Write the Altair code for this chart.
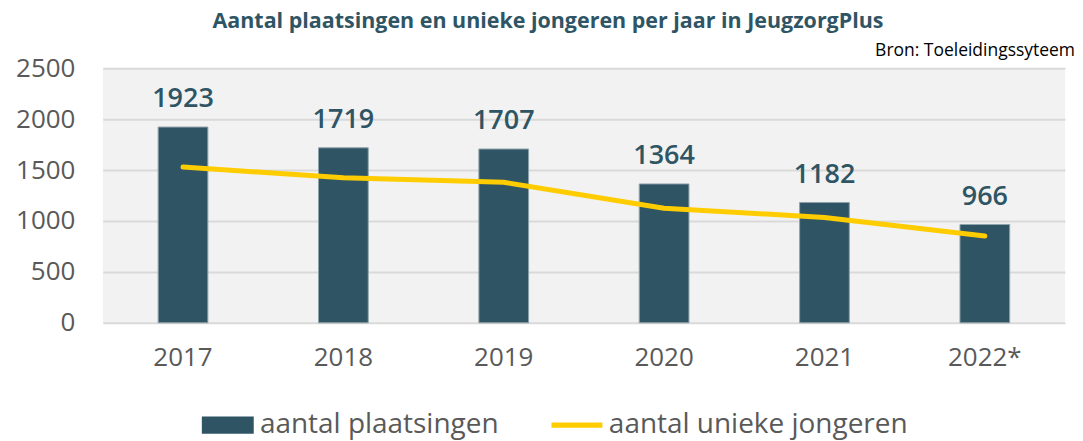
import altair as alt
import pandas as pd

years = ["2017", "2018", "2019", "2020", "2021", "2022*"]
plaatsingen = [1923, 1719, 1707, 1364, 1182, 966]
jongeren = [1530, 1425, 1380, 1125, 1035, 853]
y_ticks = [0, 500, 1000, 1500, 2000, 2500]
bar_label = "aantal plaatsingen"
line_label = "aantal unieke jongeren"
title_text = "Aantal plaatsingen en unieke jongeren per jaar in JeugzorgPlus"
source_text = "Bron: Toeleidingssyteem"

TEAL = "#2F5564"
YELLOW = "#FFCC00"
GREY = "#595959"
FONT = "Open Sans"

df = pd.DataFrame({
    "jaar": years,
    "plaatsingen": plaatsingen,
    "jongeren": jongeren,
    "s_bar": bar_label,
    "s_line": line_label,
})

x = alt.X(
    "jaar:N", sort=years,
    scale=alt.Scale(paddingInner=0.69, paddingOuter=0.345),
    axis=alt.Axis(title=None, labelAngle=0, labelFontSize=26, labelColor=GREY,
                  labelFont=FONT, labelPadding=22, domain=False, ticks=False, grid=False),
)
yscale = alt.Scale(domain=[0, 2500], nice=False)
yaxis = alt.Axis(title=None, values=y_ticks, format="d", labelFontSize=26, labelColor=GREY,
                 labelFont=FONT, labelPadding=28, domain=False, ticks=False,
                 gridColor="#D9D9D9", gridWidth=2)

base = alt.Chart(df)

bars = base.mark_bar(stroke="#8FA3AB", strokeWidth=1).encode(
    x=x,
    y=alt.Y("plaatsingen:Q", scale=yscale, axis=yaxis),
    fill=alt.Fill("s_bar:N", scale=alt.Scale(domain=[bar_label], range=[TEAL]),
                  legend=alt.Legend(title=None, orient="none", legendX=107.7, legendY=340,
                                    padding=0, symbolType="M-1.5,-0.5H1.5V0.5H-1.5Z",
                                    symbolSize=1202, symbolStrokeWidth=0, symbolOpacity=1,
                                    labelFontSize=28, labelColor=GREY, labelFont=FONT,
                                    labelOffset=14.7, labelLimit=0)),
)

labels = base.mark_text(font=FONT, fontWeight=600, fontSize=27, color=TEAL,
                        baseline="alphabetic", dy=-20).encode(
    x=x,
    y=alt.Y("plaatsingen:Q", scale=yscale),
    text=alt.Text("plaatsingen:Q"),
)

line = base.mark_line(strokeWidth=5, strokeCap="round", strokeJoin="round").encode(
    x=x,
    y=alt.Y("jongeren:Q", scale=yscale),
    stroke=alt.Stroke("s_line:N", scale=alt.Scale(domain=[line_label], range=[YELLOW]),
                      legend=alt.Legend(title=None, orient="none", legendX=446.5, legendY=329,
                                        padding=0, symbolType="stroke", symbolSize=2601,
                                        symbolStrokeWidth=5.5, labelFontSize=28, labelColor=GREY,
                                        labelFont=FONT, labelOffset=3.5, labelLimit=0)),
)

source = alt.Chart(pd.DataFrame({"t": [source_text]})).mark_text(
    font=FONT, fontSize=17.5, color="#000000", align="right", baseline="alphabetic"
).encode(text="t:N", x=alt.value(974), y=alt.value(-12))

chart = alt.layer(bars, line, labels, source).properties(
    width=964, height=255,
    padding={"left": 95, "top": 60, "right": 10, "bottom": 118},
    autosize="none",
    title=alt.Title(title_text, fontSize=21.5, font=FONT, fontWeight="bold", color=TEAL,
                    anchor="middle", dx=-36, offset=10),
).configure_view(fill="#F2F2F2", strokeWidth=0)

chart.save("out.html", embed_options={"renderer": "svg", "actions": False})
